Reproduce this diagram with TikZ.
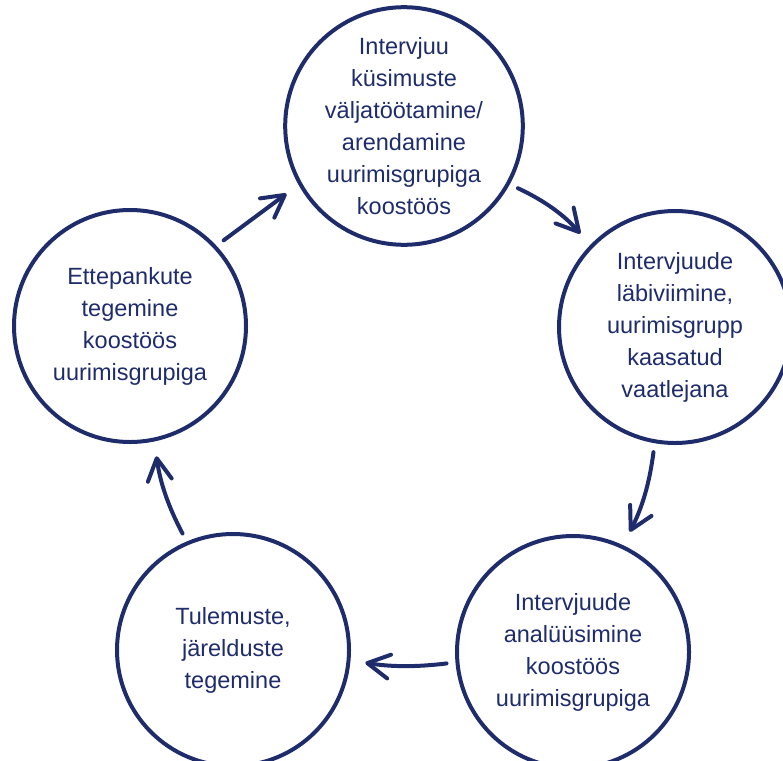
\documentclass[tikz,border=0pt]{standalone}
\usepackage{fontspec}
\setmainfont{Liberation Sans}
\usetikzlibrary{arrows.meta}
\definecolor{ringblue}{RGB}{30,44,107}

\begin{document}
\begin{tikzpicture}[x=1pt, y=1pt,
    stage/.style={circle, draw=ringblue, line width=4pt, minimum size=232pt,
        inner sep=0pt, outer sep=0pt, align=center, text=ringblue,
        font=\fontsize{23.5}{32}\selectfont},
    flow/.style={draw=ringblue, line width=4pt, line cap=round,
        -{Straight Barb[length=22pt, width=24pt, round]},
        shorten <=11pt, shorten >=17pt}]
    \useasboundingbox (0,0) rectangle (783,-760);
    \node[stage] (design) at (404,-126)
        {Intervjuu\\küsimuste\\väljatöötamine/\\arendamine\\uurimisgrupiga\\koostöös};
    \node[stage] (interviews) at (675,-327)
        {Intervjuude\\läbiviimine,\\uurimisgrupp\\kaasatud\\vaatlejana};
    \node[stage] (analysis) at (573,-652)
        {Intervjuude\\analüüsimine\\koostöös\\uurimisgrupiga};
    \node[stage] (results) at (233,-650)
        {Tulemuste,\\järelduste\\tegemine};
    \node[stage] (proposals) at (130,-326)
        {Ettepankute\\tegemine\\koostöös\\uurimisgrupiga};
    \draw[flow] (proposals.43) -- (design.209.5);
    \draw[flow] (design.-29) to[bend left=12] (interviews.136);
    \draw[flow] (interviews.-100) to[bend left=10] (analysis.65);
    \draw[flow] (analysis.185) to[bend left=8] (results.-5);
    \draw[flow] (results.113) to[bend left=10] (proposals.-78);
\end{tikzpicture}
\end{document}
